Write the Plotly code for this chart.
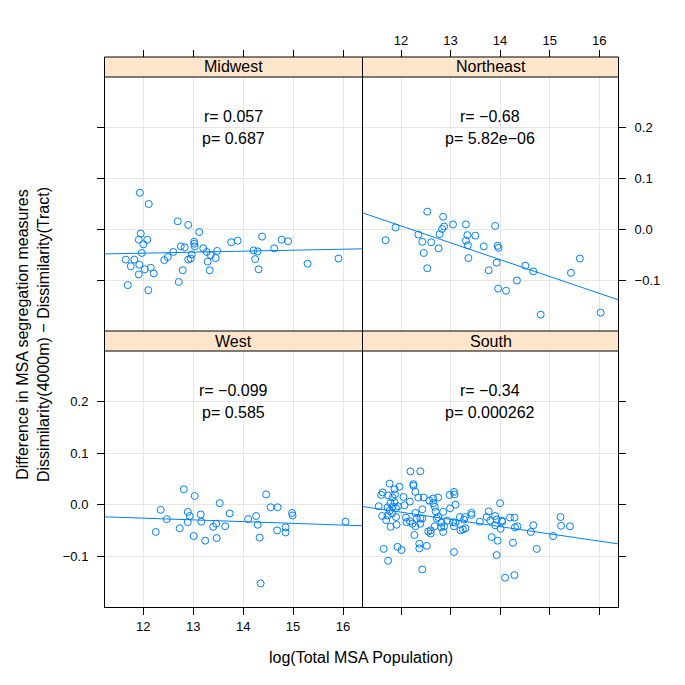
import numpy as np
import plotly.graph_objects as go

# Midwest
mw_x = [11.93, 12.11, 12.69, 12.90, 13.12, 11.95, 11.91, 12.08, 12.00, 11.97, 11.65, 11.82, 11.75,
        11.92, 12.03, 12.15, 12.21, 11.91, 11.69, 12.10, 12.42, 12.49, 12.60, 12.75, 12.83, 13.02,
        13.02, 13.03, 12.97, 12.90, 12.95, 12.79, 12.71, 13.20, 13.27, 13.35, 13.48, 13.45, 13.29,
        13.33, 13.76, 13.89, 14.38, 14.21, 14.29, 14.24, 14.31, 14.62, 14.77, 14.90, 15.29, 15.91]
mw_y = [0.072, 0.050, 0.016, 0.009, -0.005, -0.008, -0.020, -0.020, -0.029, -0.046, -0.059, -0.059,
        -0.072, -0.069, -0.078, -0.075, -0.086, -0.088, -0.109, -0.119, -0.060, -0.054, -0.044,
        -0.033, -0.035, -0.024, -0.028, -0.033, -0.049, -0.059, -0.057, -0.080, -0.103, -0.037,
        -0.044, -0.050, -0.042, -0.056, -0.063, -0.080, -0.025, -0.022, -0.014, -0.041, -0.043,
        -0.058, -0.078, -0.037, -0.020, -0.023, -0.067, -0.057]

# Northeast
ne_x = [12.53, 12.85, 13.05, 13.31, 13.90, 11.89, 12.87, 12.83, 11.69, 12.35, 12.43, 12.61, 12.78,
        12.76, 12.46, 12.53, 13.34, 13.50, 13.31, 13.35, 13.67, 13.36, 13.95, 13.97, 13.93, 13.77,
        13.96, 14.12, 14.34, 14.51, 14.67, 14.82, 15.43, 15.61, 16.03]
ne_y = [0.035, 0.025, 0.010, 0.010, 0.007, 0.004, 0.006, 0.001, -0.021, -0.010, -0.024, -0.025,
        -0.009, -0.037, -0.046, -0.076, -0.011, -0.012, -0.022, -0.031, -0.033, -0.056, -0.032,
        -0.036, -0.065, -0.080, -0.116, -0.120, -0.100, -0.071, -0.082, -0.167, -0.085, -0.057,
        -0.163]

# West
we_x = [12.81, 13.03, 12.35, 12.47, 12.25, 12.73, 12.89, 12.93, 12.89, 13.15, 13.16, 13.01, 13.24,
        13.53, 13.46, 13.40, 13.47, 13.64, 13.73, 14.10, 14.26, 14.29, 14.33, 14.46, 14.55, 14.69,
        14.35, 14.68, 14.85, 14.85, 14.98, 14.99, 16.05]
we_y = [0.030, 0.017, -0.010, -0.028, -0.053, -0.046, -0.014, -0.022, -0.034, -0.019, -0.033,
        -0.061, -0.070, 0.003, -0.037, -0.043, -0.065, -0.042, -0.017, -0.028, -0.022, -0.039,
        -0.064, 0.020, -0.005, -0.005, -0.153, -0.050, -0.044, -0.054, -0.016, -0.021, -0.033]

# South
so_x = [12.19, 12.39, 11.77, 12.25, 12.25, 11.97, 11.87, 11.63, 11.60, 11.74, 12.29, 11.88, 12.05,
        12.35, 12.46, 12.18, 11.79, 11.87, 12.07, 11.55, 11.73, 11.83, 11.90, 11.77, 11.82, 11.73,
        11.62, 11.70, 11.90, 11.91, 11.79, 12.11, 12.29, 12.43, 12.32, 12.39, 12.43, 12.23, 12.29,
        12.39, 12.65, 12.75, 12.65, 12.68, 12.70, 12.57, 12.72, 12.75, 12.85, 12.98, 13.07, 13.08,
        13.10, 12.99, 12.93, 12.82, 12.87, 12.85, 12.81, 12.68, 12.60, 12.55, 12.60, 13.05, 13.07,
        13.10, 13.19, 13.29, 13.27, 13.20, 13.25, 13.30, 13.42, 13.42, 13.59, 13.77, 13.73, 13.80,
        13.90, 13.93, 14.00, 14.04, 14.04, 13.90, 14.01, 14.20, 14.29, 14.30, 14.35, 13.83, 13.95,
        14.26, 13.93, 13.07, 12.52, 12.37, 12.37, 12.27, 11.93, 12.01, 11.65, 11.74, 12.43, 14.10,
        14.29, 14.67, 14.62, 14.74, 15.07, 15.22, 15.23, 15.41, 11.83, 11.94, 12.10, 12.18]
so_y = [0.065, 0.065, 0.041, 0.040, 0.037, 0.035, 0.030, 0.024, 0.019, 0.018, 0.025, 0.020, 0.015,
        0.014, 0.014, 0.006, 0.003, 0.005, -0.001, -0.003, -0.005, -0.004, -0.007, -0.012, -0.017,
        -0.021, -0.022, -0.030, -0.024, -0.039, -0.043, -0.034, -0.016, -0.009, -0.027, -0.027,
        -0.027, -0.037, -0.042, -0.037, 0.012, 0.014, 0.003, -0.004, -0.013, 0.008, -0.027, -0.024,
        -0.014, 0.019, 0.025, 0.020, 0.000, -0.007, -0.031, -0.035, -0.042, -0.053, -0.044, -0.042,
        -0.050, -0.052, -0.056, -0.034, -0.042, -0.035, -0.024, -0.024, -0.029, -0.050, -0.048,
        -0.046, -0.016, -0.020, -0.033, -0.013, -0.024, -0.031, -0.022, -0.029, 0.003, -0.031,
        -0.033, -0.040, -0.047, -0.025, -0.025, -0.044, -0.042, -0.063, -0.070, -0.074, -0.098,
        -0.092, -0.080, -0.076, -0.085, -0.059, -0.082, -0.088, -0.086, -0.109, -0.126, -0.142,
        -0.137, -0.040, -0.053, -0.086, -0.061, -0.024, -0.041, -0.042, 0.014, -0.003, -0.025, -0.032]

regions = ["Midwest", "Northeast", "West", "South"]
r_text = ["r= 0.057", "r= \u22120.68", "r= \u22120.099", "r= \u22120.34"]
p_text = ["p= 0.687", "p= 5.82e\u221206", "p= 0.585", "p= 0.000262"]
x_ticks = [12, 13, 14, 15, 16]
y_ticks = [-0.1, 0.0, 0.1, 0.2]

xr = [11.233, 16.38]
yr = [-0.199, 0.299]
blue = "#0080ff"
OFF = 8            # page body margin
W = 685 - OFF
px = lambda v: (v - OFF) / W
py = lambda v: 1 - (v - OFF) / W

# panel boxes in window pixels: (left, right, data top, data bottom, strip top)
boxes = {
    "Midwest": (105, 362, 77, 331, 57),
    "Northeast": (363, 618, 77, 331, 57),
    "West": (105, 362, 351, 607, 331),
    "South": (363, 618, 351, 607, 331),
}
ids = {"West": "", "South": "2", "Midwest": "3", "Northeast": "4"}
data = {"Midwest": (mw_x, mw_y), "Northeast": (ne_x, ne_y), "West": (we_x, we_y), "South": (so_x, so_y)}

fig = go.Figure()
font = "Liberation Sans, Arial, sans-serif"


def label(x, y, text, xref="paper", yref="paper", angle=0):
    fig.add_annotation(x=x, y=y, xref=xref, yref=yref, text=text, showarrow=False,
                       xanchor="center", yanchor="middle", textangle=angle,
                       font=dict(size=16, color="black", family=font))


for i, reg in enumerate(regions):
    k = ids[reg]
    xs, ys = data[reg]
    fig.add_trace(go.Scatter(x=xs, y=ys, mode="markers", xaxis="x" + k, yaxis="y" + k,
                             marker=dict(symbol="circle-open", size=7, color=blue, line=dict(width=1)),
                             showlegend=False, hoverinfo="skip"))
    b, a = np.polyfit(xs, ys, 1)
    lx = np.array(xr)
    fig.add_trace(go.Scatter(x=lx, y=a + b * lx, mode="lines", xaxis="x" + k, yaxis="y" + k,
                             line=dict(color=blue, width=1), showlegend=False, hoverinfo="skip"))
    label(13.8, 0.2216, r_text[i], "x" + k, "y" + k)
    label(13.8, 0.179, p_text[i], "x" + k, "y" + k)
    l, r, t, bt, st = boxes[reg]
    fig.add_shape(type="rect", xref="paper", yref="paper", x0=px(l - 0.5), x1=px(r + 0.5),
                  y0=py(t), y1=py(st), fillcolor="#ffe5cc", line=dict(color="black", width=1))
    label(px((l + r) / 2), py((st + t) / 2), reg)

axbase = dict(range=xr, tickvals=x_ticks, showgrid=True, gridcolor="#e6e6e6", gridwidth=1,
              showline=True, mirror=True, linecolor="black", linewidth=1, zeroline=False,
              ticklen=7, tickcolor="black", tickfont=dict(size=13, color="black", family=font))
aybase = dict(range=yr, tickvals=y_ticks, tickformat=".1f", showgrid=True, gridcolor="#e6e6e6",
              gridwidth=1, showline=True, mirror=True, linecolor="black", linewidth=1, zeroline=False,
              ticklen=7, tickcolor="black", ticklabelstandoff=6,
              tickfont=dict(size=13, color="black", family=font))

lay = {}
for reg in regions:
    k = ids[reg]
    l, r, t, bt, st = boxes[reg]
    xa = dict(axbase, domain=[px(l), px(r)], anchor="y" + k)
    ya = dict(aybase, domain=[py(bt), py(t)], anchor="x" + k)
    if reg == "West":
        xa.update(ticks="outside", showticklabels=True)
        ya.update(ticks="outside", showticklabels=True, side="left")
    elif reg == "South":
        xa.update(ticks="outside", showticklabels=False)
        ya.update(ticks="outside", showticklabels=False, side="right")
    elif reg == "Midwest":
        xa.update(ticks="", showticklabels=False)
        ya.update(ticks="outside", showticklabels=False, side="left")
    else:
        xa.update(ticks="", showticklabels=False)
        ya.update(ticks="outside", showticklabels=True, side="right")
    lay["xaxis" + k] = xa
    lay["yaxis" + k] = ya

# tick rows above the strips
for n, base, lab in [("5", "x3", False), ("6", "x4", True)]:
    lay["xaxis" + n] = dict(range=xr, tickvals=x_ticks, overlaying=base, side="top", anchor="free",
                            position=py(57), showgrid=False, showline=False, zeroline=False,
                            ticks="outside", ticklen=7, tickcolor="black", showticklabels=lab,
                            tickfont=dict(size=13, color="black", family=font))
fig.add_trace(go.Scatter(x=[None], y=[None], xaxis="x5", yaxis="y3", showlegend=False, hoverinfo="skip"))
fig.add_trace(go.Scatter(x=[None], y=[None], xaxis="x6", yaxis="y4", showlegend=False, hoverinfo="skip"))

label(px(361), py(657), "log(Total MSA Population)")
label(px(33), py(335),
      "Difference in MSA segregation measures<br>Dissimilarity(4000m) \u2212 Dissimilarity(Tract)",
      angle=-90)

fig.update_layout(width=W, height=W, margin=dict(l=0, r=0, t=0, b=0), plot_bgcolor="white",
                  paper_bgcolor="white", showlegend=False, **lay)
fig.write_html("out.html")
